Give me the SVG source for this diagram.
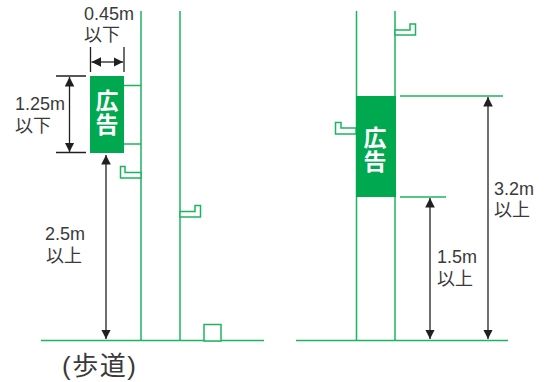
<svg xmlns="http://www.w3.org/2000/svg" width="549" height="382" viewBox="0 0 549 382">
<style>
.g{fill:none;stroke:#1db45f;stroke-width:1.5}
.h{fill:#fff;stroke:#1db45f;stroke-width:1.5}
.k{fill:none;stroke:#231f20;stroke-width:1.3}
.a{fill:none;stroke:#231f20;stroke-width:1.3;marker-start:url(#ah);marker-end:url(#ah)}
.s{fill:#00a94f}
text{font-family:"Liberation Sans","Noto Sans CJK JP",sans-serif;fill:#3a3a3a}
.l{font-size:18px}
.w{font-family:"Noto Sans CJK JP",sans-serif;font-weight:700;font-size:23px;fill:#fff;writing-mode:vertical-rl;letter-spacing:1px}
</style>
<defs><marker id="ah" markerUnits="userSpaceOnUse" markerWidth="10" markerHeight="10" refX="9.5" refY="5" orient="auto-start-reverse"><path d="M0,0.200L9.500,5L0,9.800Z" fill="#231f20"/></marker></defs>
<g id="left-structure">
<path class="g" d="M141 11V341M180 11V341M41 340.500H264M124 85.500H141M124 144H141"/>
<path class="h" d="M120.500 166.500H125V172.500H141V178H120.500Z"/>
<path class="h" d="M180 211.500H195V205.500H200.500V217H180Z"/>
<rect class="h" x="204" y="324.500" width="17" height="16.500"/>
</g>
<g id="right-structure">
<path class="g" d="M356.500 11V341M395 11V341M296 340.500H508M400 96H503M400 197H446"/>
<path class="h" d="M395 30H410V24H415.500V35H395Z"/>
<path class="h" d="M356 128H341V122.500H335.500V134H356Z"/>
</g>
<g id="sign-left"><rect class="s" x="90" y="76" width="34" height="77"/><text class="w" x="107" y="89">広告</text></g>
<g id="sign-right"><rect class="s" x="356" y="96" width="40" height="101"/><text class="w" x="375" y="126">広告</text></g>
<g id="connectors">
<path class="k" d="M90.500 47V72M124 47V72M56 76H86M56 152.500H86"/>
<path class="a" d="M91.500 62H123"/>
<path class="a" d="M69.500 77V152"/>
<path class="a" d="M106 155V339"/>
<path class="a" d="M430 198V339"/>
<path class="a" d="M488 97V339"/>
</g>
<g id="labels">
<text class="l" x="84" y="20">0.45m</text><text class="l" x="84" y="41">以下</text>
<text class="l" x="15" y="110">1.25m</text><text class="l" x="15" y="132">以下</text>
<text class="l" x="45" y="240">2.5m</text><text class="l" x="46" y="262">以上</text>
<text class="l" x="437" y="263">1.5m</text><text class="l" x="437" y="285">以上</text>
<text class="l" x="494" y="195">3.2m</text><text class="l" x="494" y="216">以上</text>
<text x="62" y="375" font-size="26" letter-spacing="1.500">(歩道)</text>
</g>
</svg>
